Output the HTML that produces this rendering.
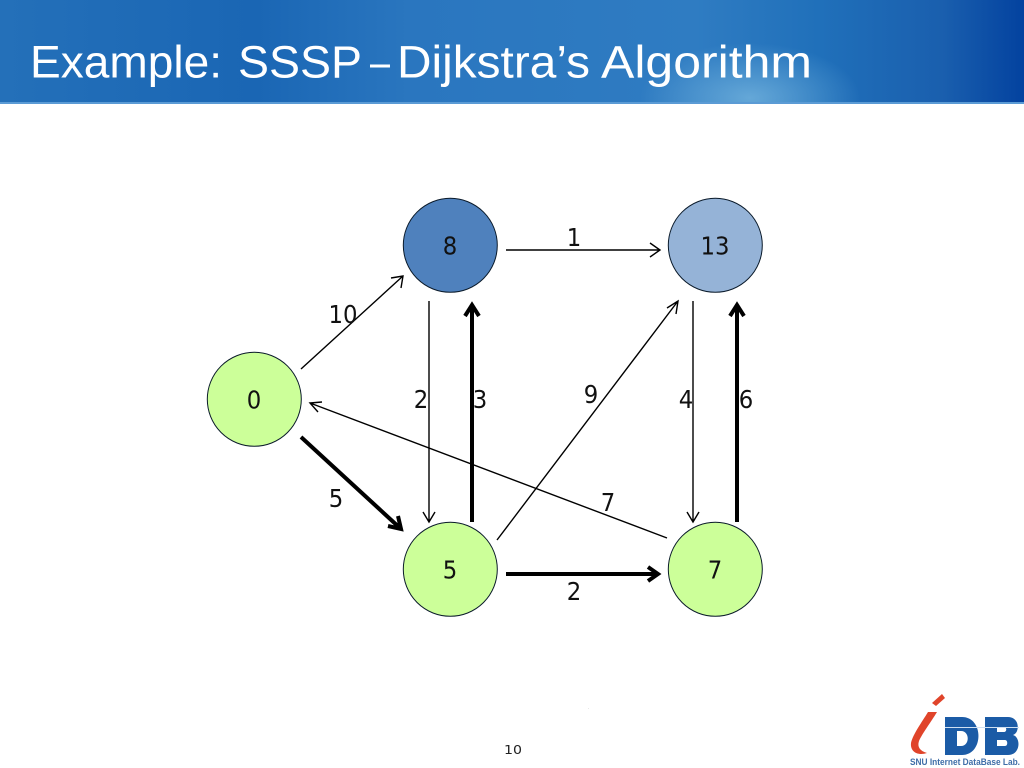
<!DOCTYPE html>
<html><head><meta charset="utf-8"><style>
html,body{margin:0;padding:0;background:#fff;width:1024px;height:768px;overflow:hidden}
svg{display:block}
text{font-family:"DejaVu Sans","Liberation Sans",sans-serif}
</style></head><body>
<svg width="1024" height="768" viewBox="0 0 1024 768" xmlns="http://www.w3.org/2000/svg">
<defs>
<linearGradient id="h" x1="0" y1="0" x2="1" y2="0">
<stop offset="0" stop-color="#2470b9"/><stop offset=".25" stop-color="#1a66b4"/><stop offset=".4" stop-color="#2a76bf"/><stop offset=".68" stop-color="#2f7cc2"/><stop offset=".8" stop-color="#2070ba"/><stop offset=".92" stop-color="#1a5fae"/><stop offset="1" stop-color="#03429f"/>
</linearGradient>
<radialGradient id="g" cx="0" cy="0" r="1" gradientUnits="userSpaceOnUse" gradientTransform="translate(750 98) scale(110 55)">
<stop offset="0" stop-color="#6fb0dc" stop-opacity=".85"/><stop offset="1" stop-color="#6fb0dc" stop-opacity="0"/>
</radialGradient>
</defs>
<rect width="1024" height="103" fill="url(#h)"/>
<rect width="1024" height="103" fill="url(#g)"/>
<rect y="102" width="1024" height="2" fill="#5b9bd5"/>
<g font-size="45" fill="#fff">
<text x="30" y="77.5" textLength="192" lengthAdjust="spacingAndGlyphs" style='font-family:"Liberation Sans",sans-serif'>Example:</text>
<text x="238" y="77.5" textLength="124" lengthAdjust="spacingAndGlyphs" style='font-family:"Liberation Sans",sans-serif'>SSSP</text>
<text x="370" y="77.5" textLength="20" lengthAdjust="spacingAndGlyphs" style='font-family:"Liberation Sans",sans-serif'>–</text>
<text x="397" y="77.5" textLength="193" lengthAdjust="spacingAndGlyphs" style='font-family:"Liberation Sans",sans-serif'>Dijkstra’s</text>
<text x="601" y="77.5" textLength="211" lengthAdjust="spacingAndGlyphs" style='font-family:"Liberation Sans",sans-serif'>Algorithm</text>
</g>

<g stroke="#0a1a2a" stroke-width="1" fill="#ccff99">
<circle cx="254.3" cy="399.3" r="47"/>
<circle cx="450.3" cy="569.3" r="47"/>
<circle cx="715.3" cy="569.3" r="47"/>
<circle cx="450.3" cy="245.3" r="47" fill="#4f81bd"/>
<circle cx="715.3" cy="245.3" r="47" fill="#95b3d7"/>
</g>

<g stroke="#000" stroke-width="1.4" fill="none">
<path d="M301 369L403 276M391 278L403 276L401 288"/>
<path d="M506 250H660M650 243L660 250L650 257"/>
<path d="M429 301V522M423 512L429 522L435 512"/>
<path d="M497 540L678 301M667 308L678 301L676 314"/>
<path d="M693 301V522M687 512L693 522L699 512"/>
<path d="M667 538L310 403M322 402L310 403L318 412"/>
</g>
<g stroke="#000" stroke-width="4" fill="none">
<path d="M301 437L401 529M388 526L401 529L398 516"/>
<path d="M472 522V305M465 316L472 305L479 316"/>
<path d="M737 522V305M730 316L737 305L744 316"/>
<path d="M506 574H658M648 567L658 574L648 581"/>
</g>

<g font-size="25" fill="#111" text-anchor="middle">
<text x="254" y="408.5" textLength="14.5" lengthAdjust="spacingAndGlyphs">0</text>
<text x="450" y="254.5" textLength="14.5" lengthAdjust="spacingAndGlyphs">8</text>
<text x="715" y="254.5" textLength="29" lengthAdjust="spacingAndGlyphs">13</text>
<text x="450" y="578.5" textLength="14.5" lengthAdjust="spacingAndGlyphs">5</text>
<text x="715" y="578.5" textLength="14.5" lengthAdjust="spacingAndGlyphs">7</text>
<text x="343" y="323" textLength="29" lengthAdjust="spacingAndGlyphs">10</text>
<text x="574" y="246" textLength="14.5" lengthAdjust="spacingAndGlyphs">1</text>
<text x="421" y="408" textLength="14.5" lengthAdjust="spacingAndGlyphs">2</text>
<text x="480" y="408" textLength="14.5" lengthAdjust="spacingAndGlyphs">3</text>
<text x="591" y="403" textLength="14.5" lengthAdjust="spacingAndGlyphs">9</text>
<text x="686" y="408" textLength="14.5" lengthAdjust="spacingAndGlyphs">4</text>
<text x="746" y="408" textLength="14.5" lengthAdjust="spacingAndGlyphs">6</text>
<text x="336" y="507" textLength="14.5" lengthAdjust="spacingAndGlyphs">5</text>
<text x="608" y="511" textLength="14.5" lengthAdjust="spacingAndGlyphs">7</text>
<text x="574" y="600" textLength="14.5" lengthAdjust="spacingAndGlyphs">2</text>
</g>
<text x="513" y="754" font-size="12" fill="#222" text-anchor="middle" textLength="18" lengthAdjust="spacingAndGlyphs">10</text>
<rect x="588" y="708" width="1" height="1" fill="#e8e8e8"/>

<path d="M928 712H937C931 722 922 734 919 741C917 747 920 751 927 753C918 756 910 752 911 743C913 734 922 722 928 712Z" fill="#e0442a"/>
<path d="M932 703L942 694L945 698L936 706Z" fill="#e0442a"/>
<path d="M945 717H962C984 717 984 755 962 755H945ZM957 731V746H961C970 746 970 731 961 731Z" fill="#1b5ba6" fill-rule="evenodd"/>
<path d="M985 717H1008C1020 717 1020 733 1013 735C1021 737 1021 755 1008 755H985ZM997 727V732H1004C1007 732 1007 727 1004 727ZM997 740V746H1005C1008 746 1008 740 1005 740Z" fill="#1b5ba6" fill-rule="evenodd"/>
<rect x="945" y="727" width="74" height="1" fill="#cfe0f2"/>
<text x="910" y="765" font-size="9.5" font-weight="bold" fill="#3f6ea8" textLength="110" lengthAdjust="spacingAndGlyphs" style='font-family:"Liberation Sans",sans-serif'>SNU Internet DataBase Lab.</text>
</svg>
</body></html>
